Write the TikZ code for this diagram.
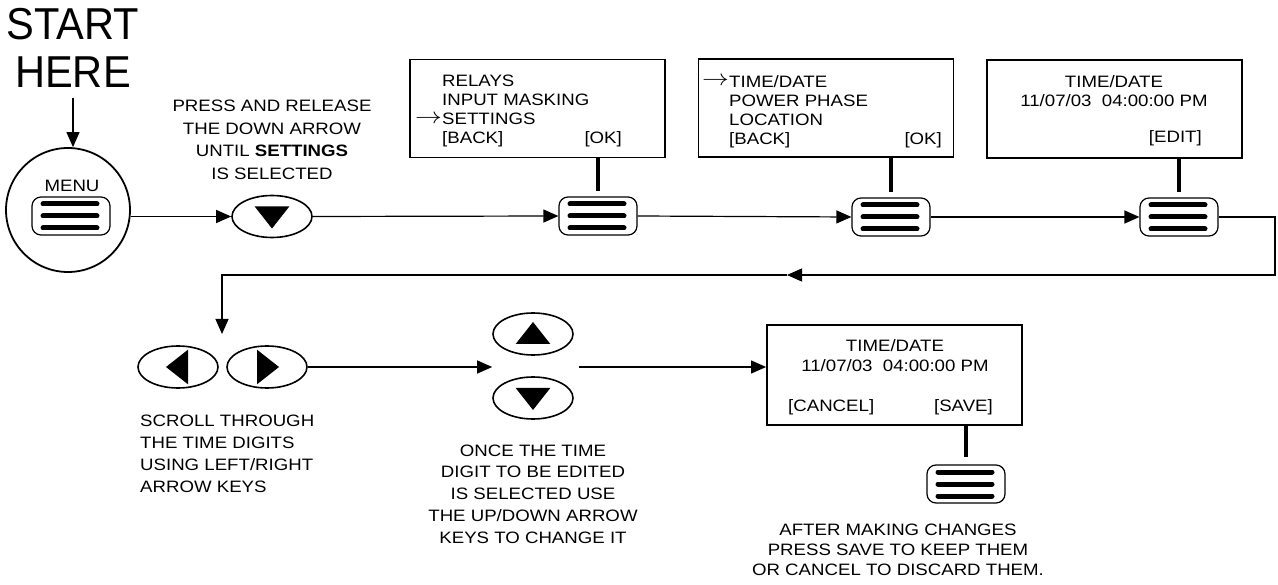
\documentclass[tikz,border=0pt]{standalone}
\usepackage{fontspec}
\setmainfont[FakeStretch=1.13]{Liberation Sans}
\newfontfamily\bigfont[FakeStretch=0.93]{Liberation Sans}
\usetikzlibrary{shapes.geometric,arrows.meta}
\newcommand\selarrow{\makebox[27pt][l]{\raisebox{1.5pt}{\scalebox{1.55}[1.3]{$\rightarrow$}}}}

\begin{document}
\begin{tikzpicture}[x=1pt,y=-1pt,>={Triangle[length=15pt,width=13pt]},
  txt/.style={inner sep=0pt,font=\fontsize{16.5}{21.7}\selectfont},
  scrtxt/.style={inner sep=0pt,font=\fontsize{16.5}{19.2}\selectfont},
  screen/.style={draw,line width=1.8pt,minimum width=255pt,minimum height=98pt,inner sep=0pt},
  menubtn/.style={draw,line width=1.2pt,rounded corners=9pt,minimum width=78pt,minimum height=38pt,
    path picture={\foreach \d in {-12,0,12}
      \draw[line width=5pt,line cap=round] ([shift={(-28,\d)}]path picture bounding box.center)
        -- ([shift={(26,\d)}]path picture bounding box.center);}},
  arrowkey/.style={ellipse,draw,line width=1.6pt,minimum width=80pt,minimum height=42pt,inner sep=0pt,
    path picture={\fill ([shift={(#1:12)}]path picture bounding box.center)
      -- ([shift={(#1+120:20)}]path picture bounding box.center)
      -- ([shift={(#1-120:20)}]path picture bounding box.center) -- cycle;}},
  stem/.style={line width=4pt},
  link/.style={line width=1.2pt}]
  \useasboundingbox (0,0) rectangle (1278,585);

  % top row
  \node[inner sep=0pt,font=\bigfont\fontsize{44.7}{48}\selectfont,align=center,anchor=base] (start) at (73,88) {START\\HERE};
  \node[circle,draw,line width=1.8pt,minimum size=124pt,inner sep=0pt] (menu) at (68,210) {};
  \node[txt,anchor=base] (menulbl) at (72,192) {MENU};
  \node[menubtn] (mbtn) at (71,216) {};
  \node[arrowkey=90] (down1) at (272,216.5) {};
  \node[txt,font=\fontsize{16.5}{22.5}\selectfont,align=center,anchor=base] (press) at (272,179.5)
    {PRESS AND RELEASE\\THE DOWN ARROW\\UNTIL \textbf{SETTINGS}\\IS SELECTED};

  \node[screen] (scr1) at (537.5,108.5) {};
  \node[scrtxt,align=left,anchor=base west] (scr1txt) at (415,144)
    {\hspace*{27pt}RELAYS\\\hspace*{27pt}INPUT MASKING\\\selarrow SETTINGS\\\hspace*{27pt}[BACK]};
  \node[scrtxt,anchor=base east] (ok1) at (622,144) {[OK]};

  \node[screen] (scr2) at (826,108) {};
  \node[scrtxt,align=left,anchor=base west] (scr2txt) at (702,145)
    {\selarrow TIME/DATE\\\hspace*{27pt}POWER PHASE\\\hspace*{27pt}LOCATION\\\hspace*{27pt}[BACK]};
  \node[scrtxt,anchor=base east] (ok2) at (942,145) {[OK]};

  \node[screen] (scr3) at (1114.5,109) {};
  \node[scrtxt,align=center,anchor=base] (scr3txt) at (1114,107) {TIME/DATE\\11/07/03\ \ 04:00:00 PM};
  \node[scrtxt,anchor=base east] (edit) at (1202,143) {[EDIT]};

  \node[menubtn] (btn1) at (598,216) {};
  \node[menubtn] (btn2) at (891,217) {};
  \node[menubtn] (btn3) at (1179,217) {};
  \draw[stem] (scr1.south -| btn1) -- ([yshift=5pt]btn1.north);
  \draw[stem] (scr2.south -| btn2) -- ([yshift=5pt]btn2.north);
  \draw[stem] (scr3.south -| btn3) -- ([yshift=5pt]btn3.north);

  % bottom row
  \node[arrowkey=180] (left) at (178,367) {};
  \node[arrowkey=0] (right) at (267,367) {};
  \node[arrowkey=270] (up) at (533,334) {};
  \node[arrowkey=90] (down2) at (533,398) {};
  \node[txt,align=left,anchor=base west] (scroll) at (140,492) {SCROLL THROUGH\\THE TIME DIGITS\\USING LEFT/RIGHT\\ARROW KEYS};
  \node[txt,align=center,anchor=base] (once) at (533,543) {ONCE THE TIME\\DIGIT TO BE EDITED\\IS SELECTED USE\\THE UP/DOWN ARROW\\KEYS TO CHANGE IT};

  \node[screen,minimum height=100pt] (scr4) at (894.5,375) {};
  \node[scrtxt,font=\fontsize{16.5}{20}\selectfont,align=center,anchor=base] (scr4txt) at (895,372) {TIME/DATE\\11/07/03\ \ 04:00:00 PM};
  \node[scrtxt,anchor=base west] (cancel) at (788,412) {[CANCEL]};
  \node[scrtxt,anchor=base east] (save) at (993,412) {[SAVE]};
  \node[menubtn] (btn4) at (966,484) {};
  \draw[stem] (scr4.south -| btn4) -- ([yshift=7pt]btn4.north);
  \node[txt,font=\fontsize{16.5}{20}\selectfont,align=center,anchor=base] (after) at (898,575)
    {AFTER MAKING CHANGES\\PRESS SAVE TO KEEP THEM\\OR CANCEL TO DISCARD THEM.};

  % connectors
  \coordinate (rt) at (1275,275);
  \coordinate (mid) at (787,275);
  \coordinate (lt) at (222,275);
  \coordinate (lrtop) at (222,334);
  \draw[link,->] ([yshift=-10pt]start.south) -- (start.south |- menu.north);
  \draw[link,->] (down1 -| menu.east) -- (down1.west);
  \draw[link,->] (down1.east) -- (btn1.west);
  \draw[link,->] (btn1.east) -- (btn2.west);
  \draw[link,->] (btn2.east) -- (btn3.west);
  \draw[link,->] (btn3.east) -| (rt) -- (mid);
  \draw[link,->] (mid) -- (lt) -- (lrtop);
  \draw[link,->] (right.east) -- (right.east -| up.west);
  \draw[link,->] ([xshift=5pt]right.east -| up.east) -- (scr4.west |- right.east);
\end{tikzpicture}
\end{document}
